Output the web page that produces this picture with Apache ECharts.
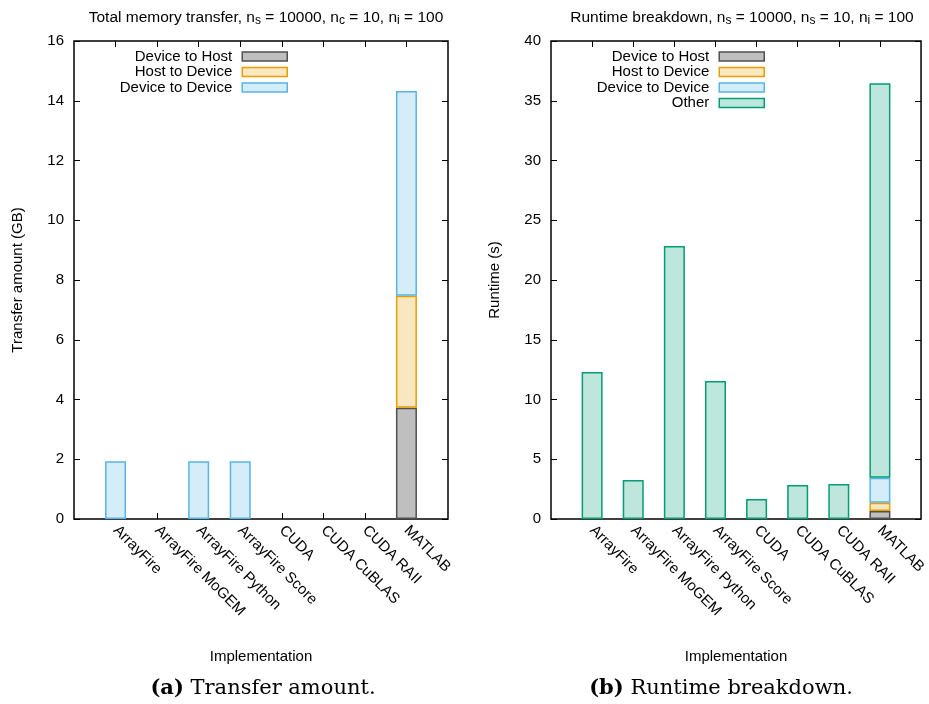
<!DOCTYPE html>
<html>
<head>
<meta charset="utf-8">
<script src="https://cdn.jsdelivr.net/npm/echarts@6/dist/echarts.min.js"></script>
<style>
  html, body { margin: 0; padding: 0; background: #fff; }
  #chart { width: 929px; height: 704px; }
</style>
</head>
<body>
<div id="chart"></div>
<script>
// implementations on the x axis
const categories = ['ArrayFire', 'ArrayFire MoGEM', 'ArrayFire Python', 'ArrayFire Score', 'CUDA', 'CUDA CuBLAS', 'CUDA RAII', 'MATLAB'];

// (a) transfer amount, GB
const transferDtH = [null, null, null, null, null, null, null, 3.72];
const transferHtD = [null, null, null, null, null, null, null, 3.75];
const transferDtD = [1.93, null, 1.93, 1.93, null, null, null, 6.86];

// (b) runtime breakdown, s
const runtimeDtH = [null, null, null, null, null, null, null, 0.67];
const runtimeHtD = [null, null, null, null, null, null, null, 0.70];
const runtimeDtD = [null, null, null, null, null, null, null, 2.09];
const runtimeOther = [12.3, 3.26, 22.85, 11.55, 1.67, 2.85, 2.93, 33.0];

const FONT = '"Liberation Sans", Arial, sans-serif';
const SERIF = '"DejaVu Serif", "Liberation Serif", serif';
const styles = {
  'Device to Host': { color: '#bfbfbf', borderColor: '#505050' },
  'Host to Device': { color: '#f9e7bf', borderColor: '#e69f00' },
  'Device to Device': { color: '#d5ecf9', borderColor: '#56b4e9' },
  'Other': { color: '#bfe6dc', borderColor: '#009e73' }
};

// gnuplot-like xrange [-1:8]: pad with empty slots at both ends
const pad = (arr) => [null, ...arr, null];
const axisCats = ['', ...categories, ''];
const innerTick = (idx) => idx > 0 && idx < axisCats.length - 1;

const chart = echarts.init(document.getElementById('chart'));

const grids = [
  { left: 74, right: 481, top: 41, bottom: 185 },
  { left: 551, right: 5, top: 41, bottom: 185 }
];

const tickStyle = { show: true, inside: true, length: 6, lineStyle: { color: '#000', width: 1 } };
const noLine = { show: false, onZero: false };

const xAxes = [];
const yAxes = [];
[0, 1].forEach((g) => {
  xAxes.push({
    type: 'category', gridIndex: g, data: axisCats, boundaryGap: false,
    axisLine: noLine,
    axisTick: { ...tickStyle, interval: innerTick },
    axisLabel: { interval: 0, rotate: -45, margin: 9, color: '#000', fontFamily: FONT, fontSize: 15 },
    name: 'Implementation', nameLocation: 'middle', nameGap: 130,
    nameTextStyle: { color: '#000', fontFamily: FONT, fontSize: 15 }
  });
  // mirrored ticks along the top edge
  xAxes.push({
    type: 'category', gridIndex: g, data: axisCats, boundaryGap: false, position: 'top',
    axisLine: noLine,
    axisTick: { ...tickStyle, interval: innerTick },
    axisLabel: { show: false }
  });
});

yAxes.push({
  type: 'value', gridIndex: 0, min: 0, max: 16, interval: 2,
  axisLine: noLine, splitLine: { show: false }, axisTick: tickStyle,
  axisLabel: { color: '#000', fontFamily: FONT, fontSize: 15, margin: 10 },
  name: 'Transfer amount (GB)', nameLocation: 'middle', nameGap: 49,
  nameTextStyle: { color: '#000', fontFamily: FONT, fontSize: 15 }
});
yAxes.push({
  type: 'value', gridIndex: 0, min: 0, max: 16, interval: 2, position: 'right',
  axisLine: noLine, splitLine: { show: false }, axisTick: tickStyle,
  axisLabel: { show: false }
});
yAxes.push({
  type: 'value', gridIndex: 1, min: 0, max: 40, interval: 5,
  axisLine: noLine, splitLine: { show: false }, axisTick: tickStyle,
  axisLabel: { color: '#000', fontFamily: FONT, fontSize: 15, margin: 10 },
  name: 'Runtime (s)', nameLocation: 'middle', nameGap: 49,
  nameTextStyle: { color: '#000', fontFamily: FONT, fontSize: 15 }
});
yAxes.push({
  type: 'value', gridIndex: 1, min: 0, max: 40, interval: 5, position: 'right',
  axisLine: noLine, splitLine: { show: false }, axisTick: tickStyle,
  axisLabel: { show: false }
});

const makeBar = (name, data, xi, yi, stack) => ({
  name, type: 'bar', stack, data: pad(data),
  xAxisIndex: xi, yAxisIndex: yi, barWidth: 21,
  itemStyle: { ...styles[name], borderWidth: 1.5 },
  emphasis: { disabled: true }
});

const legendItems = (names) => names.map((n) => ({
  name: n, itemStyle: { ...styles[n], borderWidth: 1.5 }
}));

const titleRich = {
  sub: { fontSize: 12, lineHeight: 10, verticalAlign: 'bottom', fontFamily: FONT, color: '#000' }
};
const titleText = { fontFamily: FONT, fontSize: 15.5, fontWeight: 'normal', color: '#000', lineHeight: 18, rich: titleRich };
const captionText = {
  fontFamily: SERIF, fontSize: 21, fontWeight: 'normal', color: '#000',
  rich: { b: { fontFamily: SERIF, fontSize: 21, fontWeight: 'bold', color: '#000' } }
};

chart.setOption({
  animation: false,
  grid: grids.map((g) => ({ ...g, show: true, borderColor: '#000', borderWidth: 1.5 })),
  title: [
    {
      text: 'Total memory transfer, n{sub|s} = 10000, n{sub|c} = 10, n{sub|i} = 100',
      left: 261, top: 4, textAlign: 'center', textStyle: titleText
    },
    {
      text: 'Runtime breakdown, n{sub|s} = 10000, n{sub|s} = 10, n{sub|i} = 100',
      left: 737, top: 4, textAlign: 'center', textStyle: titleText
    },
    { text: '{b|(a)} Transfer amount.', left: 258, top: 673, textAlign: 'center', textStyle: captionText },
    { text: '{b|(b)} Runtime breakdown.', left: 716, top: 673, textAlign: 'center', textStyle: captionText }
  ],
  legend: [
    {
      orient: 'vertical', align: 'right', right: 636, top: 44,
      itemWidth: 45, itemHeight: 9, itemGap: 0.5, icon: 'rect', selectedMode: false,
      textStyle: { fontFamily: FONT, fontSize: 15, color: '#000', lineHeight: 15, padding: [0, 5, 0, 0] },
      data: legendItems(['Device to Host', 'Host to Device', 'Device to Device'])
    },
    {
      orient: 'vertical', align: 'right', right: 159, top: 44,
      itemWidth: 45, itemHeight: 9, itemGap: 0.5, icon: 'rect', selectedMode: false,
      textStyle: { fontFamily: FONT, fontSize: 15, color: '#000', lineHeight: 15, padding: [0, 5, 0, 0] },
      data: legendItems(['Device to Host', 'Host to Device', 'Device to Device', 'Other'])
    }
  ],
  xAxis: xAxes,
  yAxis: yAxes,
  series: [
    makeBar('Device to Host', transferDtH, 0, 0, 'a'),
    makeBar('Host to Device', transferHtD, 0, 0, 'a'),
    makeBar('Device to Device', transferDtD, 0, 0, 'a'),
    makeBar('Device to Host', runtimeDtH, 2, 2, 'b'),
    makeBar('Host to Device', runtimeHtD, 2, 2, 'b'),
    makeBar('Device to Device', runtimeDtD, 2, 2, 'b'),
    makeBar('Other', runtimeOther, 2, 2, 'b')
  ]
});
</script>
</body>
</html>
